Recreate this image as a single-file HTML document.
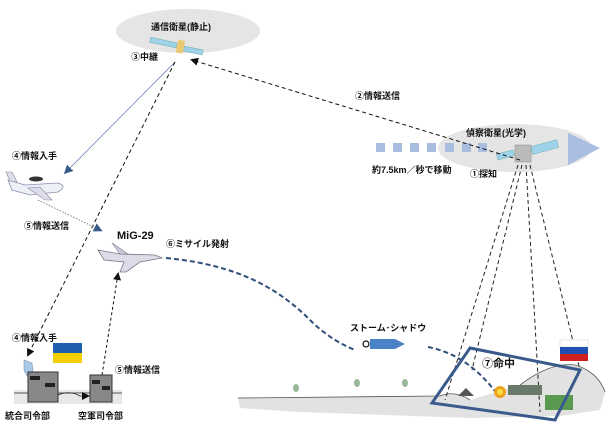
<!DOCTYPE html>
<html><head><meta charset="utf-8"><style>
html,body{margin:0;padding:0;background:#fff;width:609px;height:431px;overflow:hidden}
svg text{font-family:"Liberation Sans","Noto Sans CJK JP",sans-serif;font-weight:bold;font-size:9px;fill:#111}
</style></head><body>
<svg width="609" height="431" viewBox="0 0 609 431" xmlns="http://www.w3.org/2000/svg">
<defs>
<marker id="ab" markerWidth="8" markerHeight="8" refX="6" refY="4" orient="auto" markerUnits="userSpaceOnUse"><path d="M0,0 L8,4 L0,8 Z" fill="#111"/></marker>
<marker id="abl" markerWidth="9" markerHeight="9" refX="6" refY="4.5" orient="auto" markerUnits="userSpaceOnUse"><path d="M0,0 L9,4.5 L0,9 Z" fill="#3a5a8c"/></marker>
</defs>
<ellipse cx="188" cy="31" rx="72" ry="22" fill="#e5e5e5"/>
<text x="151" y="30">通信衛星(静止)</text>
<rect x="150" y="40" width="27" height="5" fill="#9fd3ea" stroke="#6aa" stroke-width="0.5" transform="rotate(12 163 42)"/>
<rect x="184" y="48" width="19" height="5" fill="#9fd3ea" stroke="#6aa" stroke-width="0.5" transform="rotate(12 193 50)"/>
<rect x="177" y="40" width="7" height="13" fill="#e8c870" transform="rotate(12 180 46)"/>
<text x="131" y="60">③中継</text>
<ellipse cx="515" cy="148" rx="77" ry="24" fill="#e5e5e5"/>
<g fill="#a9bde0">
<rect x="376" y="143" width="9" height="9"/><rect x="393" y="143" width="9" height="9"/><rect x="410" y="143" width="9" height="9"/><rect x="427" y="143" width="9" height="9"/><rect x="445" y="143" width="9" height="9"/><rect x="462" y="143" width="9" height="9"/><rect x="478" y="143" width="9" height="9"/>
<path d="M568,133 L600,148 L568,165 Z"/>
</g>
<text x="466" y="136">偵察衛星(光学)</text>
<rect x="497" y="152" width="17" height="6" fill="#9fd3ea" stroke="#6aa" stroke-width="0.5" transform="rotate(-15 505 155)"/>
<rect x="531" y="143" width="27" height="8" fill="#9fd3ea" stroke="#6aa" stroke-width="0.5" transform="rotate(-15 545 147)"/>
<rect x="515" y="145" width="16" height="17" fill="#bbb" stroke="#888" stroke-width="0.5"/>
<text x="372" y="173">約7.5km／秒で移動</text>
<text x="470" y="177">①探知</text>
<line x1="520" y1="160" x2="192" y2="60" stroke="#111" stroke-width="1" stroke-dasharray="4,3" marker-end="url(#ab)"/>
<text x="355" y="99">②情報送信</text>
<line x1="175" y1="62" x2="66" y2="172" stroke="#5a78a8" stroke-width="0.7" marker-end="url(#abl)"/>
<text x="12" y="159">④情報入手</text>
<path d="M8,180 L25,185 L58,183 Q68,186 58,192 L30,195 L12,190 Z" fill="#eef0f8" stroke="#8890b0" stroke-width="0.8"/>
<ellipse cx="36" cy="179" rx="7" ry="2.5" fill="#333"/>
<path d="M28,188 L45,200 L52,200 L40,187 Z" fill="#dde" stroke="#889" stroke-width="0.6"/>
<path d="M10,181 L6,172 L12,172 L17,182 Z" fill="#dde" stroke="#889" stroke-width="0.6"/>
<line x1="175" y1="62" x2="28" y2="355" stroke="#111" stroke-width="1" stroke-dasharray="4,3" marker-end="url(#ab)"/>
<line x1="38" y1="200" x2="100" y2="230" stroke="#555" stroke-width="0.7" stroke-dasharray="1.5,1.5" marker-end="url(#abl)"/>
<text x="24" y="229">⑤情報送信</text>
<text x="117" y="239" style="font-size:11px">MiG-29</text>
<path d="M98,250 L120,254 L155,255 L162,258 L140,262 L126,272 L120,272 L124,262 L104,260 Z" fill="#dcdce8" stroke="#778" stroke-width="0.8"/>
<path d="M112,243 L128,254 L120,254 Z" fill="#ccd" stroke="#778" stroke-width="0.6"/>
<text x="166" y="247">⑥ミサイル発射</text>
<path d="M166,258 C240,265 280,290 310,320 Q330,340 355,350" fill="none" stroke="#2f4f7a" stroke-width="2" stroke-dasharray="5,3"/>
<path d="M428,347 Q470,355 500,398" fill="none" stroke="#2f4f7a" stroke-width="2" stroke-dasharray="5,3"/>
<text x="350" y="331">ストーム･シャドウ</text>
<circle cx="366" cy="344" r="3" fill="#fff" stroke="#111" stroke-width="1.2"/>
<path d="M370,339 L395,339 L405,344 L395,349 L370,349 Z" fill="#4a82c8"/>
<line x1="102" y1="375" x2="118" y2="274" stroke="#111" stroke-width="1" stroke-dasharray="3,2.5" marker-end="url(#ab)"/>
<text x="115" y="373">⑤情報送信</text>
<text x="12" y="341">④情報入手</text>
<rect x="53" y="343" width="29" height="10" fill="#1f5fb0"/><rect x="53" y="353" width="29" height="10" fill="#f5d000"/>
<path d="M24,360 L32,363 L33,372 L27,376 L24,370 Z" fill="#aac8e8" stroke="#7896b0" stroke-width="0.6"/>
<rect x="14" y="390" width="108" height="14" fill="#e8e8e8"/>
<line x1="14" y1="393" x2="122" y2="393" stroke="#222" stroke-width="0.8"/>
<rect x="28" y="372" width="30" height="30" fill="#888" stroke="#333"/>
<rect x="30" y="376" width="10" height="4" fill="#222"/><rect x="45" y="383" width="10" height="4" fill="#222"/>
<rect x="90" y="375" width="22" height="27" fill="#888" stroke="#333"/>
<rect x="92" y="380" width="8" height="4" fill="#222"/><rect x="102" y="386" width="8" height="4" fill="#222"/>
<path d="M58,395 Q70,390 80,396 L88,396" fill="none" stroke="#222" stroke-width="0.8" marker-end="url(#ab)"/>
<text x="5" y="419">統合司令部</text>
<text x="78" y="419">空軍司令部</text>
<path d="M238,398 L440,396 Q455,390 470,400 L520,385 Q550,362 575,365 Q600,372 605,392 L600,410 L560,416 L470,418 L300,412 L240,408 Z" fill="#e2e2e2"/>
<path d="M238,398 L440,396 Q455,390 470,400 M520,385 Q550,362 575,365 Q598,372 605,392" fill="none" stroke="#555" stroke-width="0.8"/>
<g fill="#9bb89b"><ellipse cx="296" cy="388" rx="3" ry="4"/><ellipse cx="357" cy="383" rx="3" ry="4"/><ellipse cx="405" cy="383" rx="3" ry="4"/></g>
<g stroke="#222" stroke-width="1" stroke-dasharray="4,3" fill="none">
<line x1="518" y1="165" x2="445" y2="400"/>
<line x1="522" y1="165" x2="472" y2="370"/>
<line x1="526" y1="165" x2="540" y2="412"/>
<line x1="530" y1="165" x2="580" y2="370"/>
</g>
<path d="M458,396 L466,388 L474,396 Z" fill="#555"/>
<rect x="508" y="385" width="34" height="10" fill="#6a7a6a"/>
<rect x="545" y="395" width="28" height="15" fill="#5a9a50"/>
<circle cx="500" cy="392" r="6" fill="#f0a020"/><circle cx="500" cy="392" r="3" fill="#f5e040"/>
<path d="M470,348 L580,370 L555,420 L432,403 Z" fill="none" stroke="#3a5a8c" stroke-width="3"/>
<text x="482" y="367" style="font-size:11px">⑦命中</text>
<rect x="560" y="340" width="28" height="7" fill="#fff" stroke="#ccc" stroke-width="0.5"/><rect x="560" y="347" width="28" height="7" fill="#1f4fb0"/><rect x="560" y="354" width="28" height="7" fill="#d02020"/>
</svg>
</body></html>
